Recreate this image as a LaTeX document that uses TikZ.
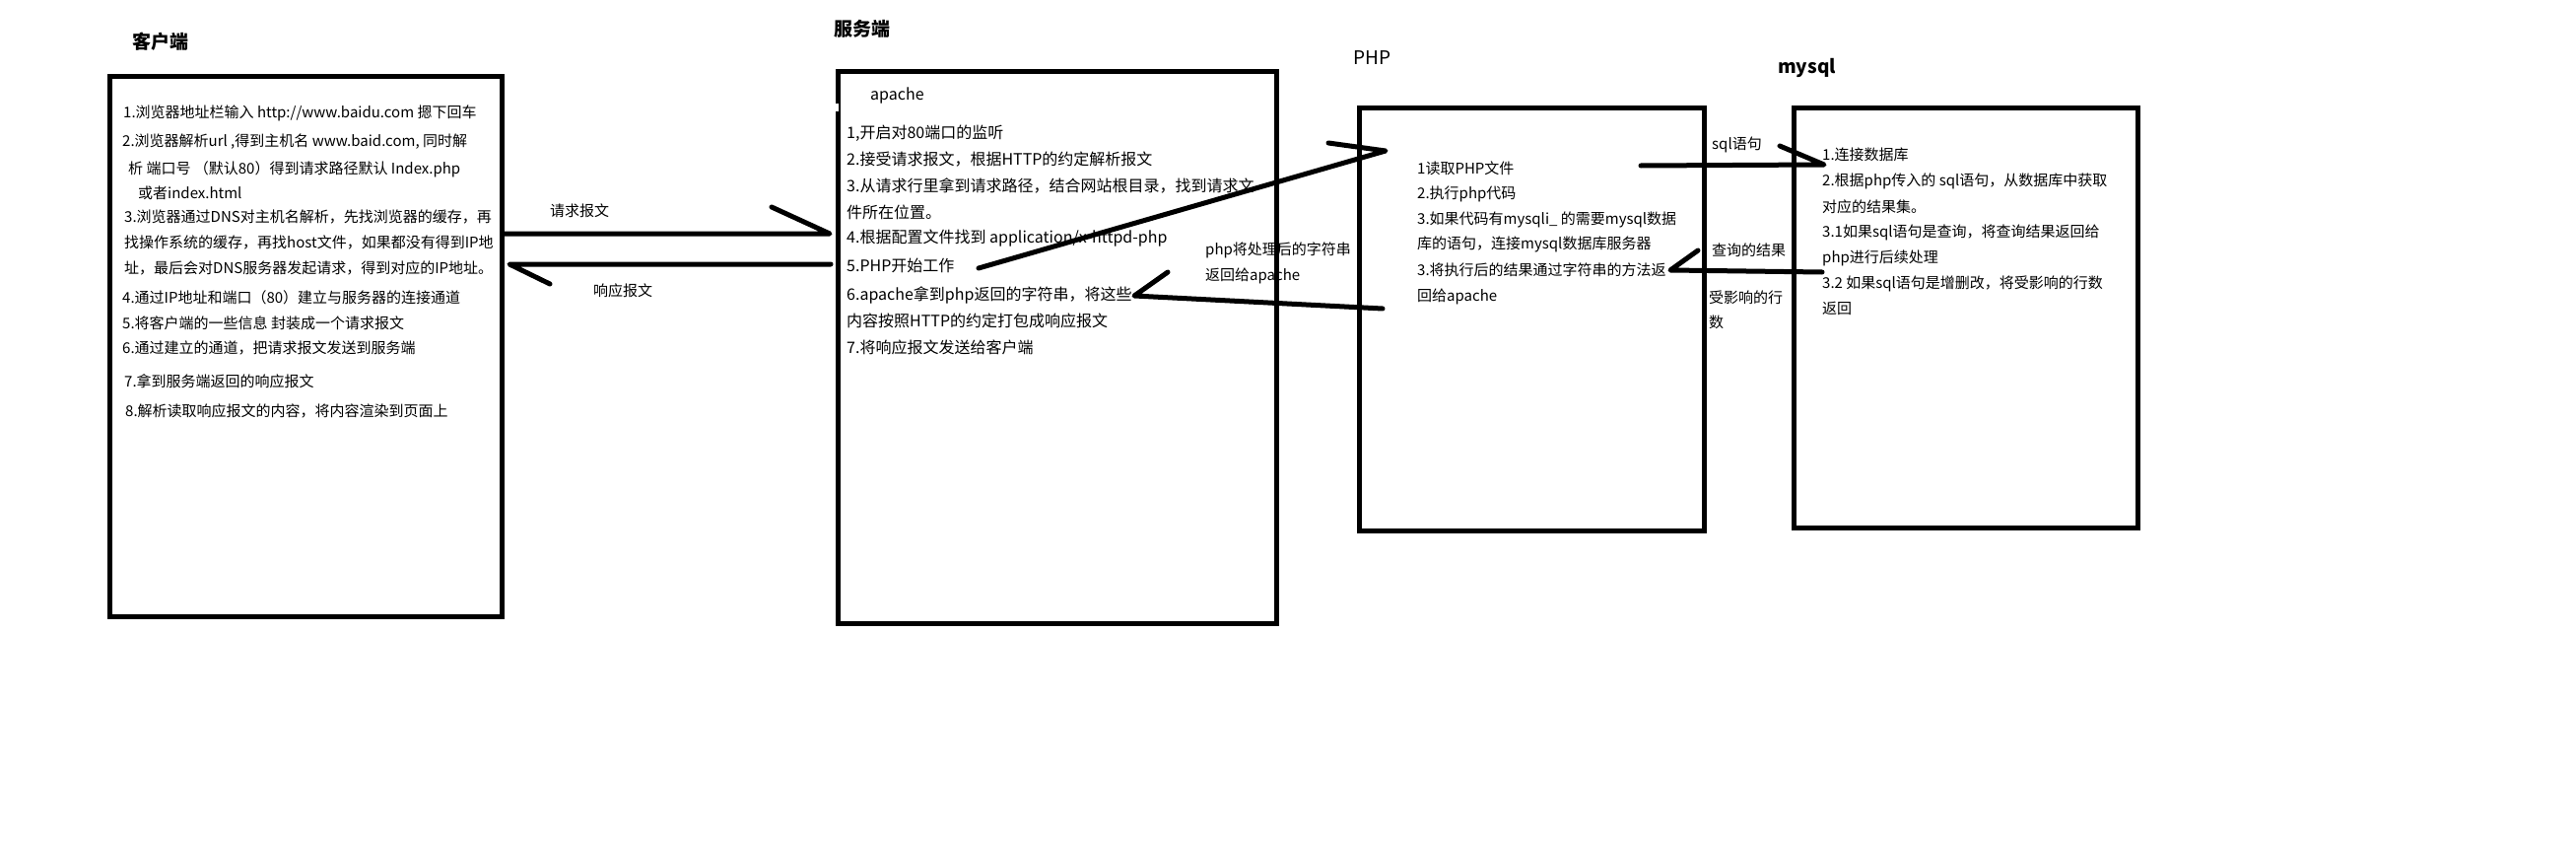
\documentclass[tikz,border=0pt]{standalone}
\usepackage{fontspec}
\setmainfont{Noto Sans CJK SC}
\begin{document}
\begin{tikzpicture}[x=1pt,y=-1pt,
  box/.style={draw,line width=5pt,inner sep=0pt,outer sep=0pt,anchor=north west},
  txt/.style={anchor=west,inner sep=0pt,font=\fontsize{15}{18}\selectfont},
  stxt/.style={anchor=west,inner sep=0pt,font=\fontsize{16}{19}\selectfont},
  ttl/.style={anchor=west,inner sep=0pt,font=\fontsize{19}{22}\selectfont\bfseries},
  ttln/.style={anchor=west,inner sep=0pt,font=\fontsize{19}{22}\selectfont},
  wire/.style={line width=5pt,line cap=round,line join=round}]
\useasboundingbox (0,0) rectangle (2614,856);
\fill[white] (0,0) rectangle (2614,856);
% boxes
\node[box,minimum width=398pt,minimum height=548pt] (client) at (111.5,77.5) {};
\node[box,minimum width=445pt,minimum height=560pt] (server) at (850.5,72.5) {};
\node[box,minimum width=350pt,minimum height=428pt] (php) at (1379,110) {};
\node[box,minimum width=349pt,minimum height=425pt] (mysql) at (1820,110) {};
\fill[white] (847,105) rectangle (851,113);
% titles
\node[ttl] (tc) at (134,42) {客户端};
\node[ttl] (ts) at (846,29) {服务端};
\node[ttln] (tp) at (1373,59) {PHP};
\node[ttl] (tm) at (1804,69) {mysql};
% client text
\node[txt] (c1) at (125,115) {1.浏览器地址栏输入 http://www.baidu.com 摁下回车};
\node[txt] (c2) at (124,144) {2.浏览器解析url ,得到主机名 www.baid.com, 同时解};
\node[txt] (c3) at (130,172) {析 端口号 （默认80）得到请求路径默认 Index.php};
\node[txt] (c4) at (140,196) {或者index.html};
\node[txt] (c5) at (126,220) {3.浏览器通过DNS对主机名解析，先找浏览器的缓存，再};
\node[txt] (c6) at (126,246) {找操作系统的缓存，再找host文件，如果都没有得到IP地};
\node[txt] (c7) at (126,272) {址，最后会对DNS服务器发起请求，得到对应的IP地址。};
\node[txt] (c8) at (124,302) {4.通过IP地址和端口（80）建立与服务器的连接通道};
\node[txt] (c9) at (124,328) {5.将客户端的一些信息 封装成一个请求报文};
\node[txt] (c10) at (124,353) {6.通过建立的通道，把请求报文发送到服务端};
\node[txt] (c11) at (126,387) {7.拿到服务端返回的响应报文};
\node[txt] (c12) at (127,417) {8.解析读取响应报文的内容，将内容渲染到页面上};
% server text
\node[stxt] (s0) at (883,97) {apache};
\node[stxt] (s1) at (859,135) {1,开启对80端口的监听};
\node[stxt] (s2) at (859,162) {2.接受请求报文，根据HTTP的约定解析报文};
\node[stxt] (s3) at (859,188) {3.从请求行里拿到请求路径，结合网站根目录，找到请求文};
\node[stxt] (s4) at (859,215) {件所在位置。};
\node[stxt] (s5) at (859,242) {4.根据配置文件找到 application/x-httpd-php};
\node[stxt] (s6) at (859,269) {5.PHP开始工作};
\node[stxt] (s7) at (859,299) {6.apache拿到php返回的字符串，将这些};
\node[stxt] (s8) at (859,325) {内容按照HTTP的约定打包成响应报文};
\node[stxt] (s9) at (859,352) {7.将响应报文发送给客户端};
% php text
\node[txt] (p1) at (1438,171) {1读取PHP文件};
\node[txt] (p2) at (1438,197) {2.执行php代码};
\node[txt] (p3) at (1438,223) {3.如果代码有mysqli\_ 的需要mysql数据};
\node[txt] (p4) at (1438,248) {库的语句，连接mysql数据库服务器};
\node[txt] (p5) at (1438,274) {3.将执行后的结果通过字符串的方法返};
\node[txt] (p6) at (1438,301) {回给apache};
% mysql text
\node[txt] (m1) at (1849,157) {1.连接数据库};
\node[txt] (m2) at (1849,184) {2.根据php传入的 sql语句，从数据库中获取};
\node[txt] (m3) at (1849,210) {对应的结果集。};
\node[txt] (m4) at (1849,236) {3.1如果sql语句是查询，将查询结果返回给};
\node[txt] (m5) at (1849,262) {php进行后续处理};
\node[txt] (m6) at (1849,288) {3.2 如果sql语句是增删改，将受影响的行数};
\node[txt] (m7) at (1849,313) {返回};
% connector labels
\node[txt] (l1) at (558,214) {请求报文};
\node[txt] (l2) at (602,295) {响应报文};
\node[txt] (l3) at (1223,254) {php将处理后的字符串};
\node[txt] (l4) at (1223,280) {返回给apache};
\node[txt] (l5) at (1737,147) {sql语句};
\node[txt] (l6) at (1737,254) {查询的结果};
\node[txt] (l7) at (1734,302) {受影响的行};
\node[txt] (l8) at (1734,327) {数};
% connector coordinates
\coordinate (rqA) at (510,237); \coordinate (rqB) at (842,237); \coordinate (rqC) at (783,210);
\coordinate (rsA) at (843,268); \coordinate (rsB) at (517,268); \coordinate (rsC) at (558,288);
\coordinate (spA) at (993,272); \coordinate (spB) at (1406,153); \coordinate (spC) at (1348,145);
\coordinate (psA) at (1403,313); \coordinate (psB) at (1151,300); \coordinate (psC) at (1185,276);
\coordinate (pmA) at (1665,168); \coordinate (pmB) at (1851,167); \coordinate (pmC) at (1806,148);
\coordinate (mpA) at (1849,276); \coordinate (mpB) at (1695,274); \coordinate (mpC) at (1723,254);
% connectors
\draw[wire] (rqA) -- (rqB) -- (rqC);
\draw[wire] (rsA) -- (rsB) -- (rsC);
\draw[wire] (spA) -- (spB) -- (spC);
\draw[wire] (psA) -- (psB) -- (psC);
\draw[wire] (pmA) -- (pmB) -- (pmC);
\draw[wire] (mpA) -- (mpB) -- (mpC);
\end{tikzpicture}
\end{document}
